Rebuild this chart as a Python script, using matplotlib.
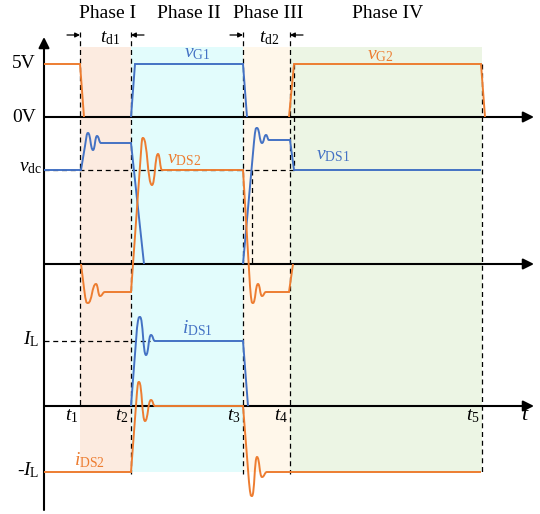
import matplotlib
matplotlib.use('Agg')
import matplotlib.pyplot as plt
from matplotlib.path import Path
from matplotlib.patches import PathPatch

plt.rcParams['font.family'] = ['Liberation Serif', 'DejaVu Serif']
plt.rcParams['mathtext.fontset'] = 'custom'
plt.rcParams['mathtext.rm'] = 'Liberation Serif'
plt.rcParams['mathtext.it'] = 'Liberation Serif:italic'

BLUE = '#4472c4'
ORANGE = '#ed7d31'

# switching instants t1..t5 and phases
t_marks = [80, 131, 243, 290, 482]
t_labels = ['$t_1$', '$t_2$', '$t_3$', '$t_4$', '$t_5$']
phase_names = ['Phase I', 'Phase II', 'Phase III', 'Phase IV']
phase_colors = ['#fcebe0', '#e2fcfc', '#fff7ea', '#ecf5e4']

# levels (amplitude above each trace baseline)
V5 = 53
VDC = 94
IL = 65

# waveform breakpoints: (t, amplitude, segment) L = straight, C = smooth
vG2_a = [(44, V5, 'L'), (80, V5, 'L'), (84, 0, 'L')]
vG2_b = [(289, 0, 'L'), (294, V5, 'L'), (481, V5, 'L'), (485, 0, 'L')]
vG1 = [(131, 0, 'L'), (135, V5, 'L'), (243, V5, 'L'), (247, 0, 'L')]

vDS1_a = [(44, VDC, 'L'), (81, VDC, 'L'), (85, 118, 'L'), (88, 131, 'C'),
          (93, 114, 'C'), (97, 128, 'C'), (101, 121, 'C'), (131, 121, 'L'),
          (144, 0, 'L')]
vDS1_b = [(243, 0, 'L'), (254, 122, 'L'), (257, 136, 'C'), (262, 121, 'C'),
          (266, 129, 'C'), (269, 124, 'C'), (290, 124, 'L'), (294, VDC, 'L'),
          (481, VDC, 'L')]
vDS2 = [(81, 0, 'L'), (84, -24, 'L'), (88, -39, 'C'), (96, -20, 'C'),
        (100, -32, 'C'), (105, -28, 'C'), (131, -28, 'L'), (141, 112, 'L'),
        (143, 126, 'C'), (152, 79, 'C'), (158, 110, 'C'), (162, VDC, 'C'),
        (243, VDC, 'L'), (250, -22, 'L'), (253, -39, 'C'), (258, -20, 'C'),
        (262, -32, 'C'), (266, -28, 'C'), (289, -28, 'L'), (293, 0, 'L')]

iDS1 = [(131, 0, 'L'), (137, 78, 'L'), (140, 89, 'C'), (146, 51, 'C'),
        (151, 71, 'C'), (155, IL, 'C'), (243, IL, 'L'), (248, 0, 'L')]
iDS2 = [(44, -66, 'L'), (131, -66, 'L'), (137, 14, 'L'), (139, 24, 'C'),
        (145, -15, 'C'), (151, 6, 'C'), (155, 0, 'C'), (243, 0, 'L'),
        (249, -76, 'L'), (252, -90, 'C'), (257, -51, 'C'), (262, -71, 'C'),
        (267, -66, 'C'), (481, -66, 'L')]

# baselines of the three panels (image rows)
GATE_BASE = 117
VDS_BASE = 264
IDS_BASE = 406


def draw_wave(ax, pts, base, color):
    verts, codes, onc = [], [], []
    prev_kind = None
    for i, (x, a, k) in enumerate(pts):
        y = base - a
        if i == 0:
            verts.append((x, y)); codes.append(Path.MOVETO)
        elif k == 'L':
            verts.append((x, y)); codes.append(Path.LINETO)
        else:
            x0, y0 = onc[-1]
            h = (x - x0) * 0.5
            if prev_kind == 'L' and len(onc) > 1:
                xp, yp = onc[-2]
                slope = (y0 - yp) / (x0 - xp) if x0 != xp else 0
                cy = y0 + slope * h
                cy = min(max(cy, min(y0, y)), max(y0, y))
                c1 = (x0 + h, cy)
            else:
                c1 = (x0 + h, y0)
            c2 = (x - h, y)
            verts += [c1, c2, (x, y)]
            codes += [Path.CURVE4] * 3
        onc.append((x, y))
        prev_kind = k
    ax.add_patch(PathPatch(Path(verts, codes), fill=False, edgecolor=color,
                           lw=1.4, zorder=4))


fig = plt.figure(figsize=(5.4, 5.14), dpi=100)
ax = fig.add_axes([0, 0, 1, 1])
ax.set_xlim(0, 540)
ax.set_ylim(514, 0)
ax.axis('off')

# phase shading
for i in range(4):
    ax.fill_between([t_marks[i], t_marks[i + 1]], 47, 472,
                    color=phase_colors[i], lw=0, zorder=0)
    ax.text((t_marks[i] + t_marks[i + 1]) / 2 + 2, 14, phase_names[i],
            fontsize=14, ha='center', va='center')

# dashed guides
dash = dict(color='k', lw=0.9, ls=(0, (4, 3)), zorder=1)
bottoms = [406, 474, 474, 474, 472]
tops = [32, 32, 32, 32, 64]
for t, y0, y1 in zip(t_marks, tops, bottoms):
    ax.plot([t, t], [y0, y1], **dash)
ax.plot([252, 252], [VDS_BASE - VDC, VDS_BASE], **dash)
ax.plot([294, 294], [GATE_BASE - V5, VDS_BASE - VDC], **dash)
ax.plot([44, 294], [VDS_BASE - VDC] * 2, **dash)
ax.plot([44, 150], [IDS_BASE - IL] * 2, **dash)

# axes with arrows
arr = dict(arrowstyle='-|>', lw=1.5, color='k', mutation_scale=16,
           shrinkA=0, shrinkB=0)
ax.annotate('', xy=(44, 37), xytext=(44, 510), arrowprops=arr, zorder=3)
for yb in [GATE_BASE, VDS_BASE, IDS_BASE]:
    ax.annotate('', xy=(534, yb), xytext=(44, yb), arrowprops=arr, zorder=3)

# dead-time arrows
sarr = dict(arrowstyle='-|>', lw=0.9, color='k', mutation_scale=7,
            shrinkA=0, shrinkB=0)
for (x0, x1) in [(67, 80), (144, 131), (230, 243), (303, 290)]:
    ax.annotate('', xy=(x1, 35), xytext=(x0, 35), arrowprops=sarr)
ax.text(110, 38, r'$t_{\mathrm{d1}}$', fontsize=14, ha='center', va='center')
ax.text(269, 38, r'$t_{\mathrm{d2}}$', fontsize=14, ha='center', va='center')

# waveforms
draw_wave(ax, vG2_a, GATE_BASE, ORANGE)
draw_wave(ax, vG2_b, GATE_BASE, ORANGE)
draw_wave(ax, vG1, GATE_BASE, BLUE)
draw_wave(ax, vDS1_a, VDS_BASE, BLUE)
draw_wave(ax, vDS1_b, VDS_BASE, BLUE)
draw_wave(ax, vDS2, VDS_BASE, ORANGE)
draw_wave(ax, iDS1, IDS_BASE, BLUE)
draw_wave(ax, iDS2, IDS_BASE, ORANGE)

# trace labels
ax.text(197, 53, r'$v_{\mathrm{G1}}$', fontsize=14, color=BLUE, ha='center', va='center')
ax.text(380, 55, r'$v_{\mathrm{G2}}$', fontsize=14, color=ORANGE, ha='center', va='center')
ax.text(184, 160, r'$v_{\mathrm{DS2}}$', fontsize=14, color=ORANGE, ha='center', va='center')
ax.text(333, 156, r'$v_{\mathrm{DS1}}$', fontsize=14, color=BLUE, ha='center', va='center')
ax.text(197, 328, r'$i_{\mathrm{DS1}}$', fontsize=14, color=BLUE, ha='center', va='center')
ax.text(89, 460, r'$i_{\mathrm{DS2}}$', fontsize=14, color=ORANGE, ha='center', va='center')

# level labels
ax.text(36, 64, '5V', fontsize=14, ha='right', va='center')
ax.text(36, 117, '0V', fontsize=14, ha='right', va='center')
ax.text(42, 168, r'$v_{\mathrm{dc}}$', fontsize=14, ha='right', va='center')
ax.text(39, 339, r'$I_{\mathrm{L}}$', fontsize=14, ha='right', va='center')
ax.text(39, 470, r'-$I_{\mathrm{L}}$', fontsize=14, ha='right', va='center')

# time labels
for t, lab in zip(t_marks, t_labels):
    ax.text(t - 2, 416, lab, fontsize=14, ha='right', va='center')
ax.text(525, 416, '$t$', fontsize=16, ha='center', va='center')

fig.savefig('out.png', dpi=100)
